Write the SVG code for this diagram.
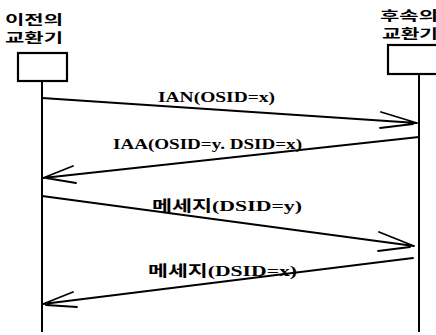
<svg xmlns="http://www.w3.org/2000/svg" width="436" height="335" viewBox="0 0 436 335">
<style>
.box{fill:#fff;stroke:#000;stroke-width:2.2}
.life{stroke:#000;stroke-width:2;fill:none}
.msg{stroke:#000;stroke-width:1.8;fill:none;stroke-linecap:round}
.kr{font-family:"Noto Sans CJK KR","Noto Sans",sans-serif;font-weight:bold;font-size:13px;fill:#000}
.lbl{font-family:"Liberation Serif","Noto Sans CJK KR",serif;font-weight:bold;font-size:15px;fill:#000}
</style>
<rect width="436" height="335" fill="#fff"/>
<g id="node-prev">
<text class="kr" x="5" y="24" textLength="58" lengthAdjust="spacingAndGlyphs">이전의</text>
<text class="kr" x="5" y="42" textLength="58" lengthAdjust="spacingAndGlyphs">교환기</text>
<rect class="box" x="18" y="53" width="49" height="28"/>
<line class="life" x1="42" y1="81" x2="42" y2="332"/>
</g>
<g id="node-next">
<text class="kr" x="380" y="20" textLength="58" lengthAdjust="spacingAndGlyphs">후속의</text>
<text class="kr" x="382" y="38" textLength="56" lengthAdjust="spacingAndGlyphs">교환기</text>
<rect class="box" x="388" y="45" width="52" height="29"/>
<line class="life" x1="419" y1="74" x2="419" y2="332"/>
</g>
<g id="connectors">
<g id="msg-ian">
<path class="msg" d="M42,98 L417,123 M381,112 L417,123 M380,128 L413,124"/>
<text class="lbl" x="158" y="102" textLength="117" lengthAdjust="spacingAndGlyphs">IAN(OSID=x)</text>
</g>
<g id="msg-iaa">
<path class="msg" d="M419,137 L43,178 M73,166 L43,178 M76,183 L46,178"/>
<text class="lbl" x="113" y="149" textLength="189" lengthAdjust="spacingAndGlyphs">IAA(OSID=y. DSID=x)</text>
</g>
<g id="msg-data-y">
<path class="msg" d="M42,196 L414,246 M379,232 L414,246 M378,251 L410,247"/>
<text class="lbl" x="152" y="211" textLength="150" lengthAdjust="spacingAndGlyphs">메세지(DSID=y)</text>
</g>
<g id="msg-data-x">
<path class="msg" d="M413,258 L43,304 M73,292 L43,304 M77,307 L46,305"/>
<text class="lbl" x="148" y="276" textLength="149" lengthAdjust="spacingAndGlyphs">메세지(DSID=x)</text>
</g>
</g>
</svg>
